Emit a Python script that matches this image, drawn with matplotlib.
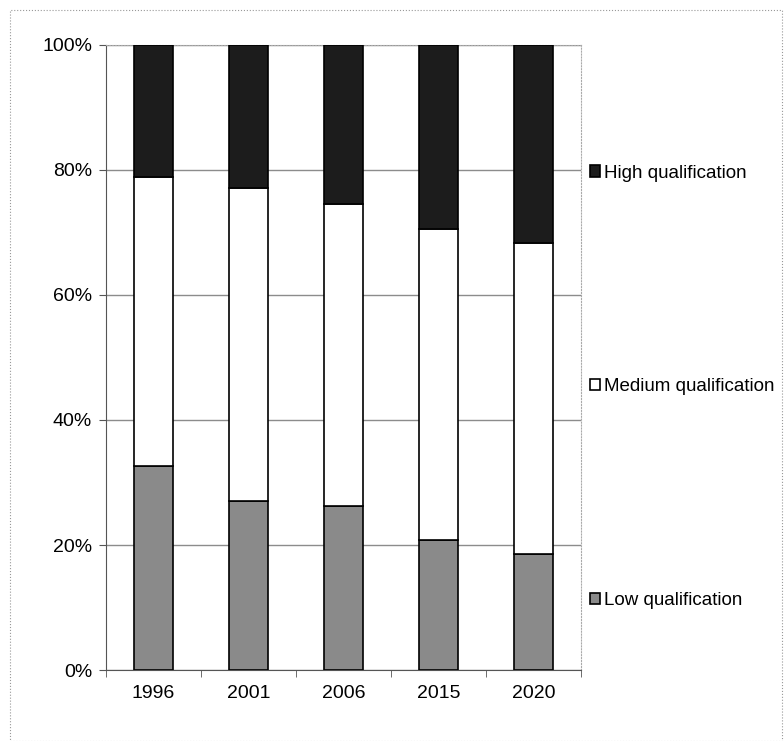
import matplotlib
matplotlib.use('Agg')
import matplotlib.pyplot as plt
import matplotlib.ticker as mticker
from matplotlib.patches import Rectangle
import numpy as np

# Data (shares, %)
years = ['1996', '2001', '2006', '2015', '2020']
low = [32.7, 27.1, 26.2, 20.8, 18.5]
medium = [46.1, 50.0, 48.4, 49.8, 49.8]
high = [21.2, 22.9, 25.4, 29.4, 31.7]

plt.rcParams['font.family'] = ['Liberation Sans Narrow', 'Liberation Sans', 'DejaVu Sans']

fig = plt.figure(figsize=(7.84, 7.41), dpi=100)
fig.patch.set_facecolor('white')
ax = fig.add_axes([0.1352, 0.0958, 0.6059, 0.8435])

x = np.arange(len(years))
w = 0.41
b1 = ax.bar(x, low, w, color='#8a8a8a', edgecolor='black', lw=1.2, zorder=3, label='Low qualification')
b2 = ax.bar(x, medium, w, bottom=low, color='white', edgecolor='black', lw=1.2, zorder=3,
            label='Medium qualification')
bottom2 = [a + b for a, b in zip(low, medium)]
b3 = ax.bar(x, high, w, bottom=bottom2, color='#1c1c1c', edgecolor='black', lw=1.2, zorder=3,
            label='High qualification')

ax.set_xlim(-0.5, len(years) - 0.5)
ax.set_ylim(0, 100)
ax.set_yticks(np.arange(0, 101, 20))
ax.yaxis.set_major_formatter(mticker.FuncFormatter(lambda v, p: f"{int(v)}%"))
ax.set_xticks(x)
ax.set_xticklabels(years)
ax.set_xticks(np.arange(-0.5, len(years), 1), minor=True)
ax.tick_params(axis='x', which='major', length=0, pad=11, labelsize=14)
ax.tick_params(axis='x', which='minor', length=5, color='#555555')
ax.tick_params(axis='y', length=5, pad=5, labelsize=14, color='#555555')

ax.yaxis.grid(True, color='#8c8c8c', lw=1.0, zorder=0)
ax.spines['top'].set_color('#aaaaaa')
ax.spines['top'].set_linestyle(':')
ax.spines['right'].set_color('#aaaaaa')
ax.spines['right'].set_linestyle(':')
ax.spines['left'].set_color('#555555')
ax.spines['bottom'].set_color('#555555')

fig.legend(handles=[b3, b2, b1], loc='upper left', bbox_to_anchor=(0.743, 0.788),
           frameon=False, fontsize=13.5, labelspacing=10.5, handlelength=0.55, handleheight=0.55,
           handletextpad=0.2, borderaxespad=0)

# outer chart border
fig.patches.append(Rectangle((0.013, 0.0), 0.985, 0.986, transform=fig.transFigure,
                             fill=False, edgecolor='#999999', lw=0.8, ls=':'))

fig.savefig('out.png', dpi=100, facecolor='white')
